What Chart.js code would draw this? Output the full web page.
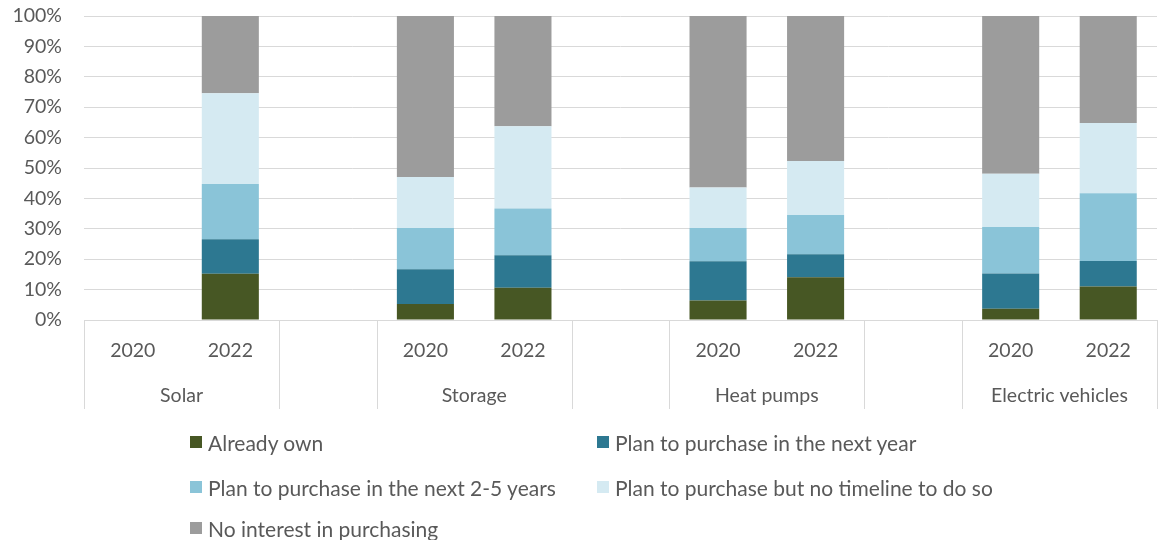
<!DOCTYPE html>
<html>
<head>
<meta charset="utf-8">
<script src="https://cdn.jsdelivr.net/npm/chart.js@4"></script>
<style>
  html, body { margin: 0; padding: 0; background: #ffffff; }
  #wrap { position: relative; width: 1163px; height: 540px; overflow: hidden; }
  #legend { position: absolute; left: 0; top: 0; width: 1163px; height: 540px; pointer-events: none;
            font-family: Lato, "Open Sans", sans-serif; font-size: 21px; color: #595959; }
  .item { position: absolute; display: flex; align-items: center; white-space: nowrap; }
  .sw { width: 12px; height: 12px; margin-right: 6px; }
</style>
</head>
<body>
<div id="wrap">
  <canvas id="c" width="1163" height="540"></canvas>
  <div id="legend"></div>
</div>
<script>
// ---- data ----
const yearLabels = ['2020', '2022', '', '2020', '2022', '', '2020', '2022', '', '2020', '2022'];
const groupLabels = ['Solar', 'Solar', '', 'Storage', 'Storage', '', 'Heat pumps', 'Heat pumps', '', 'Electric vehicles', 'Electric vehicles'];
const seriesNames = ['Already own', 'Plan to purchase in the next year', 'Plan to purchase in the next 2-5 years',
                     'Plan to purchase but no timeline to do so', 'No interest in purchasing'];
const alreadyOwn  = [null, 15.2, null, 5.3, 10.6, null, 6.4, 14.1, null, 3.7, 11.0];
const nextYear    = [null, 11.4, null, 11.4, 10.7, null, 12.9, 7.5, null, 11.6, 8.4];
const next2to5    = [null, 18.1, null, 13.6, 15.4, null, 11.0, 12.9, null, 15.3, 22.3];
const noTimeline  = [null, 29.9, null, 16.7, 27.0, null, 13.3, 17.8, null, 17.5, 23.1];
const noInterest  = [null, 25.4, null, 53.0, 36.3, null, 56.4, 47.7, null, 51.9, 35.2];
const yTicks = [0, 10, 20, 30, 40, 50, 60, 70, 80, 90, 100];

// ---- styles ----
const colors = ['#475724', '#2d7891', '#8ac4d8', '#d5eaf2', '#9c9c9c'];
const FONT = 'Lato, "Open Sans", sans-serif';
const TEXT = '#595959';
const GRID = '#d9d9d9';
const AXIS_SIZE = 19.5;

const seriesData = [alreadyOwn, nextYear, next2to5, noTimeline, noInterest];
const datasets = seriesNames.map((n, i) => ({
  label: n,
  data: seriesData[i],
  backgroundColor: colors[i],
  borderWidth: 0,
  barPercentage: 0.585,
  categoryPercentage: 1.0,
  stack: 's'
}));

const groupPlugin = {
  id: 'groupAxis',
  afterDraw(chart) {
    const x = chart.scales.x;
    const ctx = chart.ctx;
    const area = chart.chartArea;
    const n = groupLabels.length;
    const half = (x.getPixelForValue(1) - x.getPixelForValue(0)) / 2;
    const runs = [];
    let start = 0;
    for (let i = 1; i <= n; i++) {
      if (i === n || groupLabels[i] !== groupLabels[start]) {
        runs.push({ label: groupLabels[start], from: start, to: i - 1 });
        start = i;
      }
    }
    ctx.save();
    ctx.strokeStyle = GRID;
    ctx.lineWidth = 1;
    const bounds = new Set();
    runs.forEach(r => {
      bounds.add(Math.round(x.getPixelForValue(r.from) - half) + 0.5);
      bounds.add(Math.round(x.getPixelForValue(r.to) + half) + 0.5);
    });
    bounds.forEach(px => {
      ctx.beginPath();
      ctx.moveTo(px, area.bottom);
      ctx.lineTo(px, area.bottom + 89);
      ctx.stroke();
    });
    ctx.fillStyle = TEXT;
    ctx.font = AXIS_SIZE + 'px ' + FONT;
    ctx.textAlign = 'center';
    ctx.textBaseline = 'middle';
    runs.forEach(r => {
      if (!r.label) return;
      const cx = (x.getPixelForValue(r.from) + x.getPixelForValue(r.to)) / 2;
      ctx.fillText(r.label, cx, area.bottom + 76);
    });
    ctx.restore();
  }
};

new Chart(document.getElementById('c'), {
  type: 'bar',
  data: { labels: yearLabels, datasets },
  options: {
    responsive: false,
    devicePixelRatio: 1,
    animation: false,
    layout: { padding: { top: 16, right: 6, bottom: 130, left: 0 } },
    plugins: { legend: { display: false }, tooltip: { enabled: false } },
    scales: {
      x: {
        stacked: true,
        grid: { display: false, drawTicks: false },
        border: { display: true, color: GRID, width: 1 },
        ticks: { color: TEXT, font: { family: FONT, size: AXIS_SIZE }, padding: 19, maxRotation: 0, autoSkip: false },
        afterFit(s) { s.height = 90; s.paddingLeft = 0; s.paddingRight = 0; }
      },
      y: {
        stacked: true,
        min: 0, max: 100,
        afterBuildTicks(s) { s.ticks = yTicks.map(v => ({ value: v })); },
        grid: { color: GRID, lineWidth: 1, drawTicks: false },
        border: { display: false },
        ticks: { color: TEXT, font: { family: FONT, size: AXIS_SIZE }, padding: 22, callback: v => v + '%' },
        afterFit(s) { s.width = 84; s.paddingTop = 0; s.paddingBottom = 0; }
      }
    }
  },
  plugins: [groupPlugin]
});

// ---- legend ----
const legendPos = [[190, 442], [597, 442], [190, 487], [597, 487], [190, 528]];
const leg = document.getElementById('legend');
seriesNames.forEach((n, i) => {
  const d = document.createElement('div');
  d.className = 'item';
  d.style.left = legendPos[i][0] + 'px';
  d.style.top = (legendPos[i][1] - 13) + 'px';
  d.style.height = '26px';
  const sw = document.createElement('span');
  sw.className = 'sw';
  sw.style.background = colors[i];
  const t = document.createElement('span');
  t.textContent = n;
  d.appendChild(sw); d.appendChild(t);
  leg.appendChild(d);
});
</script>
</body>
</html>
